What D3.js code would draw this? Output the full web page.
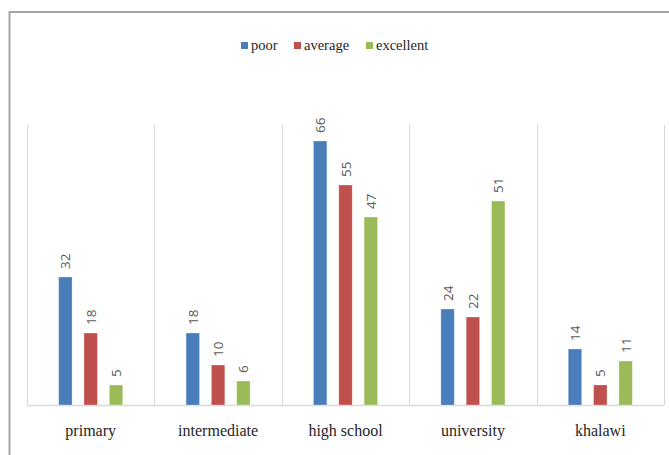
<!DOCTYPE html>
<html>
<head>
<meta charset="utf-8">
<script src="https://cdn.jsdelivr.net/npm/d3@7"></script>
</head>
<body style="margin:0">
<svg id="chart" width="669" height="455" style="font-family: 'Liberation Serif';"></svg>
<script>
// chart data
var categories = ["primary", "intermediate", "high school", "university", "khalawi"];
var seriesNames = ["poor", "average", "excellent"];
var poor = [32, 18, 66, 24, 14];
var average = [18, 10, 55, 22, 5];
var excellent = [5, 6, 47, 51, 11];
var seriesColors = ["#4a7ebb", "#c0504d", "#9bbb59"];

var seriesValues = [poor, average, excellent];

var svg = d3.select("#chart");
var plotLeft = 27, plotRight = 664, plotTop = 125, plotBottom = 405;

//outer chart frame (runs off the right / bottom edge like the screenshot)
svg.append("rect")
   .attr("x", 9.5).attr("y", 12)
   .attr("width", 700).attr("height", 500)
   .attr("fill", "none")
   .attr("stroke", "#a6a6a6")
   .attr("stroke-width", 2);

var x0 = d3.scaleBand().domain(categories).range([plotLeft, plotRight]).padding(0);
var x1 = d3.scaleBand().domain(seriesNames).range([0, x0.bandwidth()]).paddingInner(0.47).paddingOuter(1.25);
var y = d3.scaleLinear().domain([0, 70]).range([plotBottom, plotTop]);

//vertical category dividers
var dividers = categories.map(function(c){ return x0(c); }).concat([plotRight]);
svg.selectAll("line.div")
   .data(dividers)
   .enter()
   .append("line")
   .attr("stroke", "#d9d9d9")
   .attr("x1", function(d){ return Math.round(d) + 0.5; })
   .attr("x2", function(d){ return Math.round(d) + 0.5; })
   .attr("y1", plotTop)
   .attr("y2", plotBottom);

//baseline
svg.append("line")
   .attr("stroke", "#d9d9d9")
   .attr("stroke-width", 1.5)
   .attr("x1", plotLeft).attr("x2", plotRight)
   .attr("y1", plotBottom + 0.5).attr("y2", plotBottom + 0.5);

//bars
var groups = svg.selectAll("g.cat")
   .data(categories)
   .enter()
   .append("g")
   .attr("class", "cat")
   .attr("transform", function(d){ return "translate(" + x0(d) + ",0)"; });

var cells = groups.selectAll("g.bar")
   .data(function(d, i){
      return seriesNames.map(function(s, j){ return {series: s, value: seriesValues[j][i], color: seriesColors[j]}; });
   })
   .enter()
   .append("g");

cells.append("rect")
   .attr("x", function(d){ return x1(d.series); })
   .attr("width", x1.bandwidth())
   .attr("y", function(d){ return y(d.value); })
   .attr("height", function(d){ return plotBottom - y(d.value); })
   .attr("fill", function(d){ return d.color; })
   .attr("stroke", "#ffffff")
   .attr("stroke-opacity", 0.35)
   .attr("stroke-width", 0.8);

//value labels, rotated like the excel ones
cells.append("text")
   .style("font-family", "'Open Sans'")
   .attr("font-size", 13.5)
   .attr("fill", "#595959")
   .attr("transform", function(d){
      return "translate(" + (x1(d.series) + x1.bandwidth() / 2) + "," + (y(d.value) - 8) + ") rotate(-90)";
   })
   .attr("text-anchor", "start")
   .attr("dominant-baseline", "central")
   .text(function(d){ return d.value; });

//category labels
svg.selectAll("text.cat-label")
   .data(categories)
   .enter()
   .append("text")
   .attr("class", "cat-label")
   .attr("font-size", 16)
   .attr("fill", "#262626")
   .attr("text-anchor", "middle")
   .attr("x", function(d){ return x0(d) + x0.bandwidth() / 2; })
   .attr("y", 436)
   .text(function(d){ return d; });

//legend
var legendX = [241, 294, 366];
var legend = svg.selectAll("g.legend")
   .data(seriesNames)
   .enter()
   .append("g")
   .attr("transform", function(d, i){ return "translate(" + legendX[i] + ",0)"; });

legend.append("rect")
   .attr("x", 0).attr("y", 42)
   .attr("width", 7).attr("height", 7)
   .attr("fill", function(d, i){ return seriesColors[i]; });

legend.append("text")
   .attr("font-size", 14.5)
   .attr("fill", "#262626")
   .attr("x", 10).attr("y", 50)
   .text(function(d){ return d; });
</script>
</body>
</html>
